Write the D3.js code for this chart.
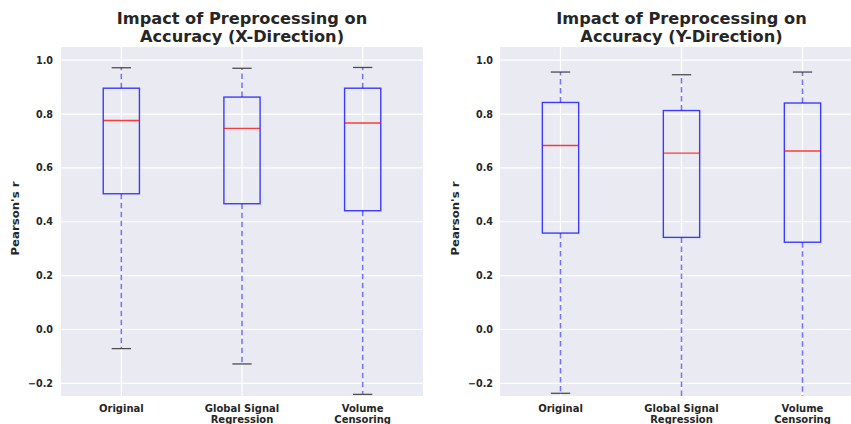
<!DOCTYPE html>
<html>
<head>
<meta charset="utf-8">
<script src="https://cdn.jsdelivr.net/npm/d3@7"></script>
<style>
  body { margin: 0; background: #fff; }
  svg text { font-family: "DejaVu Sans", sans-serif; font-weight: bold; fill: #262626; }
</style>
</head>
<body>
<svg id="chart" width="851" height="424"></svg>
<script>
// ---- data ----
const categories = [["Original"], ["Global Signal", "Regression"], ["Volume", "Censoring"]];
const yTicks = [-0.2, 0.0, 0.2, 0.4, 0.6, 0.8, 1.0];
// X-direction: [lowerWhisker, Q1, median, Q3, upperWhisker]
const xLow    = [-0.071, -0.128, -0.241];
const xQ1     = [0.504, 0.467, 0.441];
const xMedian = [0.776, 0.747, 0.767];
const xQ3     = [0.896, 0.863, 0.896];
const xHigh   = [0.972, 0.970, 0.973];
// Y-direction
const yLow    = [-0.237, -0.30, -0.33];
const yQ1     = [0.358, 0.342, 0.324];
const yMedian = [0.683, 0.655, 0.663];
const yQ3     = [0.843, 0.813, 0.841];
const yHigh   = [0.956, 0.946, 0.956];

const panels = [
  { title: ["Impact of Preprocessing on", "Accuracy (X-Direction)"], left: 61, right: 423,
    low: xLow, q1: xQ1, med: xMedian, q3: xQ3, high: xHigh, labelX: 15, tickEnd: 53 },
  { title: ["Impact of Preprocessing on", "Accuracy (Y-Direction)"], left: 500, right: 863,
    low: yLow, q1: yQ1, med: yMedian, q3: yQ3, high: yHigh, labelX: 455, tickEnd: 493 }
];

const svg = d3.select("#chart");
const plotTop = 47, plotBottom = 396;
const y = d3.scaleLinear().domain([-0.247, 1.049]).range([plotBottom, plotTop]);

panels.forEach((p, pi) => {
  const x = d3.scaleLinear().domain([0.5, 3.5]).range([p.left, p.right]);
  const unit = x(1) - x(0);
  const g = svg.append("g");
  const clipId = "clip" + pi;
  svg.append("clipPath").attr("id", clipId).append("rect")
    .attr("x", p.left).attr("y", plotTop).attr("width", p.right - p.left).attr("height", plotBottom - plotTop);

  g.append("rect").attr("x", p.left).attr("y", plotTop)
    .attr("width", p.right - p.left).attr("height", plotBottom - plotTop).attr("fill", "#EAEAF2");

  // grid
  const grid = g.append("g").attr("clip-path", `url(#${clipId})`);
  grid.selectAll("line.hg").data(yTicks).join("line")
    .attr("x1", p.left).attr("x2", p.right)
    .attr("y1", d => y(d)).attr("y2", d => y(d))
    .attr("stroke", "#fff").attr("stroke-width", 1.2);
  grid.selectAll("line.vg").data([1, 2, 3]).join("line")
    .attr("x1", d => x(d)).attr("x2", d => x(d))
    .attr("y1", plotTop).attr("y2", plotBottom)
    .attr("stroke", "#fff").attr("stroke-width", 1.2);

  // y axis tick labels
  const yAxis = d3.axisLeft(y).tickValues(yTicks).tickSize(0).tickPadding(0)
    .tickFormat(d => d3.format(".1f")(d).replace("-", "\u2212"));
  const ya = g.append("g").attr("transform", `translate(${p.tickEnd},0)`).call(yAxis);
  ya.select(".domain").remove();
  ya.selectAll("text").attr("font-size", 9.6).attr("fill", "#262626")
    .style("font-family", "'DejaVu Sans', sans-serif").style("font-weight", "bold");

  // x axis labels
  const xa = g.append("g");
  categories.forEach((lines, i) => {
    const t = xa.append("text").attr("x", x(i + 1)).attr("y", 411.5)
      .attr("text-anchor", "middle").attr("font-size", 10);
    lines.forEach((l, j) => t.append("tspan").attr("x", x(i + 1)).attr("dy", j === 0 ? 0 : 11).text(l));
  });

  // y label
  g.append("text").attr("transform", `translate(${p.labelX},${(plotTop + plotBottom) / 2 - 3}) rotate(-90)`)
    .attr("text-anchor", "middle").attr("dy", "0.35em").attr("font-size", 10.5)
    .attr("textLength", 74).attr("lengthAdjust", "spacingAndGlyphs").text("Pearson's r");

  // title
  const tx = (p.left + p.right) / 2;
  const tt = g.append("text").attr("x", tx).attr("y", 24)
    .attr("text-anchor", "middle").attr("font-size", 16.2).attr("fill", "#262626");
  p.title.forEach((l, j) => tt.append("tspan").attr("x", tx).attr("dy", j === 0 ? 0 : 18).text(l));

  // boxes
  const bg = g.append("g").attr("clip-path", `url(#${clipId})`);
  const bw = 0.3 * unit, cw = 0.16 * unit;
  [0, 1, 2].forEach(i => {
    const cxp = x(i + 1);
    bg.append("line").attr("x1", cxp).attr("x2", cxp).attr("y1", y(p.q3[i])).attr("y2", y(p.high[i]))
      .attr("stroke", "#0000ff").attr("stroke-opacity", 0.55).attr("stroke-width", 1.5).attr("stroke-dasharray", "5.5,3.5");
    bg.append("line").attr("x1", cxp).attr("x2", cxp).attr("y1", y(p.q1[i])).attr("y2", y(p.low[i]))
      .attr("stroke", "#0000ff").attr("stroke-opacity", 0.55).attr("stroke-width", 1.5).attr("stroke-dasharray", "5.5,3.5");
    bg.append("line").attr("x1", cxp - cw / 2).attr("x2", cxp + cw / 2).attr("y1", y(p.high[i])).attr("y2", y(p.high[i]))
      .attr("stroke", "#333").attr("stroke-opacity", 0.85).attr("stroke-width", 1.3);
    bg.append("line").attr("x1", cxp - cw / 2).attr("x2", cxp + cw / 2).attr("y1", y(p.low[i])).attr("y2", y(p.low[i]))
      .attr("stroke", "#333").attr("stroke-opacity", 0.85).attr("stroke-width", 1.3);
    bg.append("rect").attr("x", cxp - bw / 2).attr("width", bw)
      .attr("y", y(p.q3[i])).attr("height", y(p.q1[i]) - y(p.q3[i]))
      .attr("fill", "none").attr("stroke", "#0000ff").attr("stroke-opacity", 0.75).attr("stroke-width", 1.4);
    bg.append("line").attr("x1", cxp - bw / 2).attr("x2", cxp + bw / 2).attr("y1", y(p.med[i])).attr("y2", y(p.med[i]))
      .attr("stroke", "#ff0000").attr("stroke-opacity", 0.75).attr("stroke-width", 1.4);
  });
});
</script>
</body>
</html>
